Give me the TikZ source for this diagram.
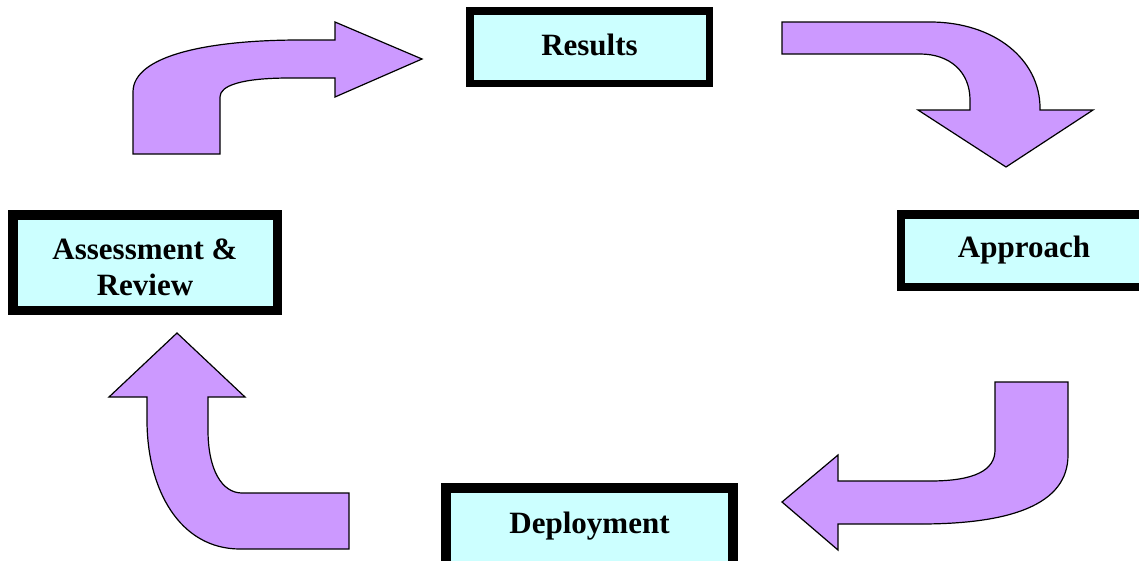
\documentclass[tikz,border=0pt]{standalone}
\usepackage{fontspec}
\setmainfont{Liberation Serif}
\definecolor{arrowfill}{HTML}{CC99FF}
\definecolor{boxfill}{HTML}{CCFFFF}
\begin{document}
\begin{tikzpicture}[x=1pt,y=-1pt,
  stagebox/.style={draw=black,fill=boxfill,inner sep=0pt,align=center,
    font=\fontsize{31}{36}\selectfont\bfseries},
  bentarrow/.style={draw=black,fill=arrowfill,line width=1.2pt,line join=miter}]
\useasboundingbox (0,0) rectangle (1139,560);
\fill[white] (0,0) rectangle (1139,560);
% stage boxes
\node[stagebox,line width=7.5pt,minimum width=239.5pt,minimum height=72.5pt,text height=21pt,text depth=5pt] (results) at (589.5,47) {Results};
\node[stagebox,line width=8.5pt,minimum width=246pt,minimum height=72.5pt] (approach) at (1024,250.5) {Approach};
\node[stagebox,line width=10pt,minimum width=287pt,minimum height=85pt,text height=21pt,text depth=16pt] (deploy) at (589.5,530.5) {Deployment};
\node[stagebox,line width=9.5pt,minimum width=264.5pt,minimum height=95.5pt,text height=65pt,text depth=0pt] (assess) at (145,262.5) {Assessment \&\\Review};
% bent arrows
\draw[bentarrow] (133,154) -- (133,92) .. controls (133,55) and (210,40) .. (300,40) -- (335,40) -- (335,22) -- (422,59) -- (335,97) -- (335,78) -- (290,78) .. controls (240,78) and (220,86) .. (220,97) -- (220,154) -- cycle;
\draw[bentarrow] (782,22) -- (930,22) .. controls (995,22) and (1040,60) .. (1040,108) -- (1040,110) -- (1093,110) -- (1006,167) -- (918,110) -- (970,110) -- (970,100) .. controls (970,72) and (950,54) .. (920,54) -- (782,54) -- cycle;
\draw[bentarrow] (995,382) -- (1068,382) -- (1068,455) .. controls (1068,505) and (1010,524) .. (920,524) -- (838,524) -- (838,550) -- (782,502) -- (838,455) -- (838,481) -- (930,481) .. controls (975,481) and (995,470) .. (995,450) -- cycle;
\draw[bentarrow] (349,493) -- (349,549) -- (240,549) .. controls (180,549) and (147,490) .. (147,420) -- (147,397) -- (109,397) -- (177,333) -- (245,397) -- (208,397) -- (208,430) .. controls (208,470) and (222,493) .. (242,493) -- cycle;
\end{tikzpicture}
\end{document}
